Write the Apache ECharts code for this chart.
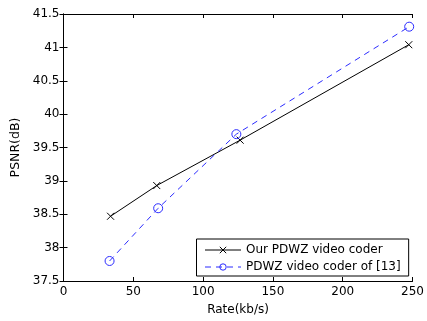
<!DOCTYPE html>
<html><head><meta charset="utf-8">
<script src="https://cdn.jsdelivr.net/npm/echarts@6/dist/echarts.min.js"></script>
<style>html,body{margin:0;padding:0;background:#fff}#c{width:427px;height:321px}</style>
</head><body><div id="c"></div>
<script>
const rateOurs = [33.7, 66.8, 126.5, 247.3];
const psnrOurs = [38.47, 38.93, 39.61, 41.04];
const rateRef = [33.0, 67.8, 123.8, 247.6];
const psnrRef = [37.80, 38.59, 39.70, 41.31];
const seriesNames = ['Our PDWZ video coder', 'PDWZ video coder of [13]'];
const xTicks = [0, 50, 100, 150, 200, 250];
const yTicks = [37.5, 38, 38.5, 39, 39.5, 40, 40.5, 41, 41.5];

const font = 'DejaVu Sans, Verdana, sans-serif';
const blue = '#2b2bff';
const chart = echarts.init(document.getElementById('c'));
const crossPath = 'path://M0,0L10,10M10,0L0,10';
const axBase = {
  type: 'value', min: xTicks[0], max: xTicks[xTicks.length-1], interval: 50,
  axisLine: {show: true, lineStyle: {color: '#000', width: 1}},
  axisTick: {show: true, inside: true, length: 4, lineStyle: {color: '#000'}},
  splitLine: {show: false}
};
chart.setOption({
  animation: false,
  grid: {left: 63.5, right: 11.5, top: 14, bottom: 40, containLabel: false},
  xAxis: [
    Object.assign({}, axBase, {position: 'bottom', name: 'Rate(kb/s)', nameLocation: 'middle', nameGap: 23,
      nameTextStyle: {fontFamily: font, fontSize: 12, color: '#000'},
      axisLabel: {fontFamily: font, fontSize: 12, color: '#000', margin: 5}}),
    Object.assign({}, axBase, {position: 'top', axisLabel: {show: false}})
  ],
  yAxis: [
    Object.assign({}, axBase, {min: yTicks[0], max: yTicks[yTicks.length-1], interval: 0.5, position: 'left',
      name: 'PSNR(dB)', nameLocation: 'middle', nameGap: 37, nameRotate: 90,
      nameTextStyle: {fontFamily: font, fontSize: 12.5, color: '#000'},
      axisLabel: {fontFamily: font, fontSize: 12, color: '#000', margin: 4}}),
    Object.assign({}, axBase, {min: yTicks[0], max: yTicks[yTicks.length-1], interval: 0.5, position: 'right', axisLabel: {show: false}})
  ],
  legend: {
    left: 196.5, top: 239, orient: 'vertical', align: 'left',
    backgroundColor: '#fff', borderColor: '#000', borderWidth: 1, borderRadius: 0,
    padding: [4, 8, 2, 8], itemGap: 3, itemWidth: 36, itemHeight: 8,
    textStyle: {fontFamily: font, fontSize: 12, color: '#000', lineHeight: 14},
    lineStyle: {width: 1},
    itemStyle: {borderWidth: 1},
    data: seriesNames
  },
  series: [
    {name: seriesNames[0], type: 'line', data: rateOurs.map((x, i) => [x, psnrOurs[i]]),
      symbol: crossPath, symbolSize: 7,
      lineStyle: {color: '#000', width: 1},
      itemStyle: {color: '#000', borderColor: '#000', borderWidth: 1}},
    {name: seriesNames[1], type: 'line', data: rateRef.map((x, i) => [x, psnrRef[i]]),
      symbol: 'circle', symbolSize: 9,
      lineStyle: {color: blue, width: 1, type: [6, 5]},
      itemStyle: {color: 'rgba(0,0,0,0)', borderColor: blue, borderWidth: 1}}
  ]
});
</script></body></html>
